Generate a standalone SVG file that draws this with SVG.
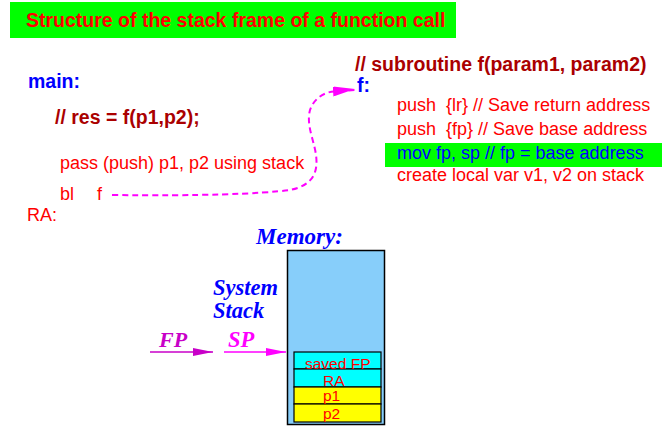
<svg xmlns="http://www.w3.org/2000/svg" width="663" height="443" viewBox="0 0 663 443">
<style>
  .sans { font-family: "Liberation Sans", Arial, sans-serif; }
  .bold { font-weight: bold; }
  .big { font-size: 19.5px; }
  .med { font-size: 18px; }
  .red { fill: #ff0000; }
  .dred { fill: #aa0000; }
  .blue { fill: #0000ff; }
  .serif { font-family: "Liberation Serif", "Times New Roman", serif; font-style: italic; font-weight: bold; }
  .cell { stroke: #000000; stroke-width: 1.2; }
  .cyan { fill: #00ffff; }
  .yellow { fill: #ffff00; }
  .celltxt { font-family: "Liberation Sans", Arial, sans-serif; font-size: 15.5px; fill: #ff0000; }
</style>
<defs>
  <marker id="headFP" viewBox="0 0 20 8" refX="20" refY="4" markerWidth="20" markerHeight="8" markerUnits="userSpaceOnUse" orient="auto">
    <path d="M0,0 L20,4 L0,8 Z" fill="#c800c8"/>
  </marker>
  <marker id="headSP" viewBox="0 0 20 8" refX="20" refY="4" markerWidth="20" markerHeight="8" markerUnits="userSpaceOnUse" orient="auto">
    <path d="M0,0 L20,4 L0,8 Z" fill="#ff00ff"/>
  </marker>
  <marker id="headCall" viewBox="0 0 22 10" refX="22" refY="5" markerWidth="22" markerHeight="10" markerUnits="userSpaceOnUse" orient="auto">
    <path d="M0,0 L22,4 L0,10 Z" fill="#ff00ff"/>
  </marker>
</defs>
<rect width="663" height="443" fill="#ffffff"/>

<g id="title">
  <rect x="10" y="2" width="446" height="36" fill="#00ff00"/>
  <text x="26" y="27" class="sans bold big red">Structure of the stack frame of a function call</text>
</g>

<g id="main-code">
  <text x="28" y="88" class="sans bold big blue">main:</text>
  <text x="55" y="124" class="sans bold big dred">// res = f(p1,p2);</text>
  <text x="60" y="169" class="sans med red">pass (push) p1, p2 using stack</text>
  <text x="60" y="200" class="sans med red">bl</text>
  <text x="97" y="200" class="sans med red">f</text>
  <text x="27" y="221" class="sans med red">RA:</text>
</g>

<g id="subroutine-code">
  <text x="355" y="71" class="sans bold big dred">// subroutine f(param1, param2)</text>
  <text x="357" y="92" class="sans bold big blue">f:</text>
  <text x="397" y="111" class="sans med red" xml:space="preserve">push  {lr} // Save return address</text>
  <text x="397" y="135" class="sans med red" xml:space="preserve">push  {fp} // Save base address</text>
  <rect x="385" y="143" width="277" height="24" fill="#00ff00"/>
  <text x="397" y="159" class="sans med blue">mov fp, sp // fp = base address</text>
  <text x="397" y="181" class="sans med red">create local var v1, v2 on stack</text>
</g>

<g id="memory">
  <text x="256" y="244" class="serif blue" font-size="23">Memory:</text>
  <rect x="287.5" y="250.5" width="97" height="174" fill="#87cefa" stroke="#000000" stroke-width="1.5"/>
  <rect x="294" y="352" width="87" height="17" class="cell cyan"/>
  <rect x="294" y="369" width="87" height="18" class="cell cyan"/>
  <rect x="294" y="387" width="87" height="17" class="cell yellow"/>
  <rect x="294" y="404" width="87" height="18" class="cell yellow"/>
  <text x="305" y="369" class="celltxt" font-size="17">saved FP</text>
  <text x="323" y="385.5" class="celltxt">RA</text>
  <text x="323" y="401" class="celltxt">p1</text>
  <text x="323" y="418.5" class="celltxt">p2</text>
</g>

<g id="system-stack">
  <text x="213" y="295" class="serif blue" font-size="22.5">System</text>
  <text x="213" y="318" class="serif blue" font-size="22.5">Stack</text>
</g>

<g id="fp-pointer">
  <text x="159" y="347" class="serif" font-size="22" fill="#c800c8">FP</text>
</g>

<g id="sp-pointer">
  <text x="228" y="347" class="serif" font-size="22.5" fill="#ff00ff">SP</text>
</g>

<g id="connectors">
  <line x1="150" y1="352" x2="213" y2="352" stroke="#c800c8" stroke-width="1.5" marker-end="url(#headFP)"/>
  <line x1="224" y1="352" x2="286" y2="352" stroke="#ff00ff" stroke-width="1.5" marker-end="url(#headSP)"/>
  <path d="M112,195 C 200,196 260,194 290,190 C 315,185 318,170 316,155 C 314,140 306,125 310,110 C 314,98 325,92 334,91.5 L 355,90" fill="none" stroke="#ff00ff" stroke-width="2" stroke-dasharray="6,4" marker-end="url(#headCall)"/>
</g>
</svg>
